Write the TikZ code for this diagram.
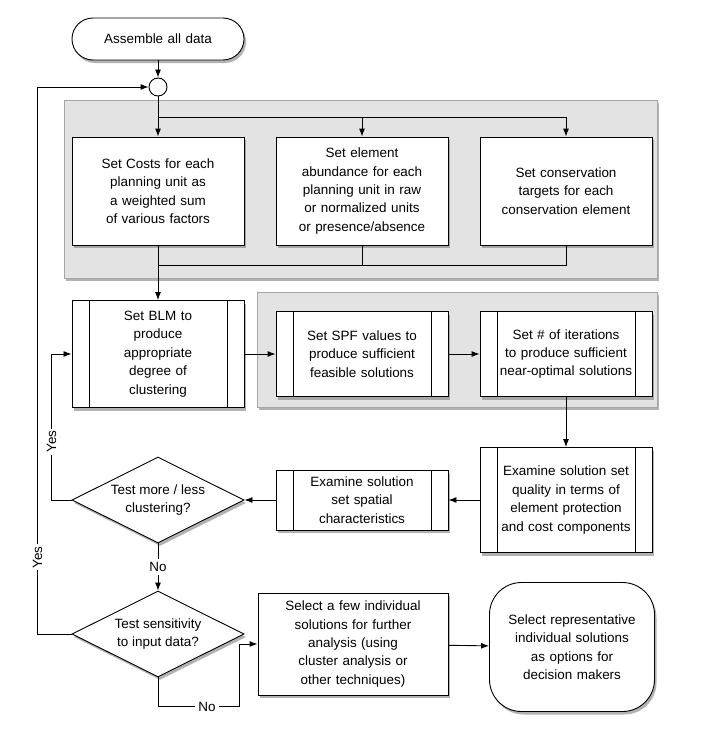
\documentclass[tikz,border=0pt]{standalone}
\usepackage{fontspec}
\setmainfont{Liberation Sans}
\usetikzlibrary{shapes.geometric,shadows,arrows.meta,positioning}
\hyphenpenalty=10000
\tikzset{
  box/.style={draw,fill=white,minimum width=172bp,text width=136bp,align=center,
    drop shadow={shadow xshift=2bp,shadow yshift=-3bp,opacity=.6}},
  sub/.style={box,path picture={
    \draw ([xshift=17bp]path picture bounding box.north west) -- ([xshift=17bp]path picture bounding box.south west);
    \draw ([xshift=-17bp]path picture bounding box.north east) -- ([xshift=-17bp]path picture bounding box.south east);}},
  test/.style={draw,fill=white,diamond,aspect=2,minimum width=172bp,minimum height=86bp,inner sep=0pt,align=center,
    drop shadow={shadow xshift=2bp,shadow yshift=-3bp,opacity=.6}},
  group/.style={draw=gray!70,fill=gray!22,drop shadow={shadow xshift=2bp,shadow yshift=-3bp,opacity=.6}},
  flow/.style={-{Latex[length=8bp,width=6bp]}}
}
\begin{document}
\begin{tikzpicture}[x=1bp,y=-1bp,line width=0.9bp,
    font=\fontsize{13.5}{18.5}\selectfont]
  \useasboundingbox[fill=white] (0,0) rectangle (720,742);
  % shaded groups:
  \draw[group] (64,100) rectangle (657,278);
  \draw[group] (257,292) rectangle (657,407);
  % start and junction:
  \node[box,rounded corners=21bp,minimum height=42bp] (start) at (158,39) {Assemble all data};
  \node[draw,circle,fill=white,minimum size=18bp,inner sep=0pt] (join) at (158,87) {};
  % first row:
  \node[box,minimum height=108bp] (cost) at (158,191) {Set Costs for each planning unit as a weighted sum of various factors};
  \node[box,minimum height=108bp] (abund) at (362,191) {Set element abundance for each planning unit in raw or normalized units or presence/absence};
  \node[box,minimum height=108bp] (target) at (566,191) {Set conservation targets for each conservation element};
  % second row:
  \node[sub,minimum height=107bp] (blm) at (158,354) {Set BLM to\\produce\\appropriate\\degree of\\clustering};
  \node[sub,minimum height=85bp] (spf) at (362,354) {Set SPF values to produce sufficient feasible solutions};
  \node[sub,minimum height=85bp] (iter) at (566,354) {Set \# of iterations to produce sufficient near-optimal solutions};
  % third row:
  \node[sub,minimum height=105bp] (quality) at (566,500) {Examine solution set quality in terms of element protection and cost components};
  \node[sub,minimum height=60bp,text width=120bp] (spatial) at (362,500) {Examine solution set spatial characteristics};
  \node[test] (more) at (158,500) {Test more / less\\clustering?};
  % bottom:
  \node[box,minimum width=190bp,text width=168bp,minimum height=102bp] (select) at (353,644) {Select a few individual solutions for further analysis (using cluster analysis or other techniques)};
  \node[test] (sens) at (158,634) {Test sensitivity\\to input data?};
  \node[box,rounded corners=32bp,minimum width=165bp,text width=140bp,minimum height=129bp] (final) at (572,647) {Select representative individual solutions as options for decision makers};
  % connectors:
  \draw[flow] (start) -- (join);
  \draw[flow] (join) -- (cost);
  \coordinate (split) at (158,117);
  \draw[flow] (split) -| (abund);
  \draw[flow] (split) -| (target);
  \coordinate (merge) at (158,265);
  \draw (abund) |- (merge);
  \draw (target) |- (merge);
  \draw[flow] (cost) -- (blm);
  \draw[flow] (blm) -- (spf);
  \draw[flow] (spf) -- (iter);
  \draw[flow] (iter) -- (quality);
  \draw[flow] (quality) -- (spatial);
  \draw[flow] (spatial) -- (more);
  \draw[flow] (more.west) -- ++(-20,0) |- (blm.west) node[pos=.2,rotate=90,fill=white,inner sep=2bp] {Yes};
  \draw[flow] (more) -- (sens) node[midway,fill=white] {No};
  \draw[flow] (sens.west) -- ++(-34,0) |- (join.west) node[pos=.07,rotate=90,fill=white,inner sep=2bp] {Yes};
  \draw[flow] (sens.south) -- ++(0,29) -| ([xshift=-18bp]select.west) node[pos=.3,fill=white] {No} -- (select.west);
  \draw[flow] (select) -- (final);
\end{tikzpicture}
\end{document}
